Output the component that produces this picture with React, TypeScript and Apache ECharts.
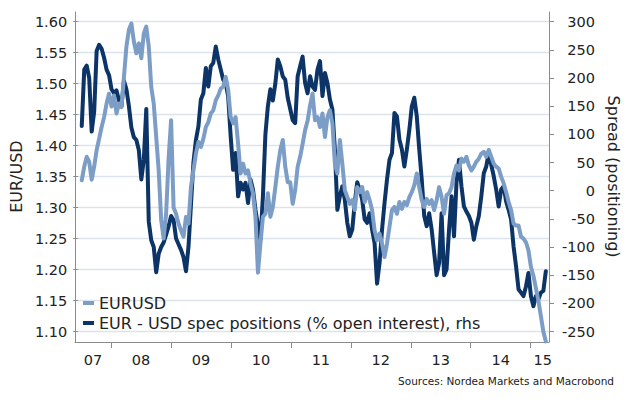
import React, { useEffect, useRef } from "react";
import * as echarts from "echarts";

// Half-monthly observations starting mid-June 2007
const startYear = 2007.46;
const stepYears = 1 / 24;
const xMin = 2007.4;
const xMax = 2015.305;

const eurusd = [
  1.344, 1.366, 1.382, 1.374, 1.345, 1.366, 1.393, 1.411, 1.43, 1.446,
  1.468, 1.484, 1.463, 1.481, 1.452, 1.468, 1.462, 1.511, 1.56, 1.587,
  1.597, 1.568, 1.549, 1.565, 1.541, 1.581, 1.592, 1.56, 1.495, 1.468,
  1.414, 1.36, 1.28, 1.25, 1.29, 1.38, 1.441, 1.3, 1.29, 1.274,
  1.263, 1.253, 1.285, 1.274, 1.333, 1.36, 1.387, 1.406, 1.398, 1.411,
  1.43, 1.438, 1.452, 1.457, 1.473, 1.481, 1.492, 1.495, 1.511, 1.49,
  1.446, 1.436, 1.446, 1.403, 1.355, 1.371, 1.355, 1.36, 1.339, 1.323,
  1.285, 1.195, 1.242, 1.285, 1.29, 1.323, 1.285, 1.301, 1.333, 1.366,
  1.393, 1.409, 1.366, 1.341, 1.341, 1.306, 1.328, 1.366, 1.382, 1.403,
  1.425, 1.44, 1.465, 1.484, 1.441, 1.446, 1.43, 1.452, 1.414, 1.446,
  1.457, 1.436, 1.371, 1.355, 1.409, 1.371, 1.328, 1.317, 1.306, 1.312,
  1.296, 1.333, 1.325, 1.333, 1.309, 1.325, 1.312, 1.296, 1.263, 1.247,
  1.258, 1.242, 1.22, 1.242, 1.269, 1.296, 1.301, 1.29, 1.309, 1.298,
  1.309, 1.304, 1.317, 1.325, 1.336, 1.355, 1.333, 1.312, 1.301, 1.314,
  1.306, 1.312, 1.296, 1.312, 1.333, 1.317, 1.29, 1.32, 1.323, 1.333,
  1.355, 1.368, 1.36, 1.379, 1.374, 1.382, 1.368, 1.36, 1.366, 1.374,
  1.379, 1.387, 1.39, 1.382, 1.393, 1.382, 1.371, 1.366, 1.363, 1.35,
  1.339, 1.325, 1.309, 1.296, 1.274, 1.271, 1.271, 1.253, 1.25, 1.244,
  1.231, 1.204, 1.19, 1.17, 1.15, 1.125, 1.1, 1.084,
];

const specPositions = [
  115, 215, 222, 200, 105, 140, 248, 259, 252, 236,
  215, 205, 180, 173, 178, 160, 150, 195, 180, 150,
  112, 95, 90, 72, 20, 55, 145, -55, -88, -100,
  -145, -112, -100, -92, -78, -63, -45, -52, -85, -95,
  -105, -118, -143, -100, -25, 50, 90, 114, 162, 173,
  218, 185, 221, 227, 256, 233, 215, 197, 191, 167,
  97, 37, 67, -10, 14, 2, 14, -22, 20, 2,
  -34, -63, -87, -10, 100, 150, 180, 160, 190, 233,
  221, 203, 197, 165, 145, 125, 120, 203, 221, 238,
  191, 173, 203, 185, 179, 215, 230, 168, 209, 191,
  162, 144, 73, -34, -10, 8, -16, -57, -81, -69,
  -22, 15, 2, -16, -51, -57, -40, -69, -93, -165,
  -128, -69, -22, 20, 55, 67, 138, 132, 91, 73,
  43, 73, 108, 150, 165, 132, 73, 20, -45, -63,
  -40, -69, -110, -150, -128, -40, -150, -140, -69, -10,
  -81, 14, 55, 8, -28, -37, -45, -57, -87, -63,
  -45, -10, 31, 43, 67, 46, 26, 2, -28, 2,
  8, -19, -34, -51, -99, -134, -175, -181, -187, -170,
  -146, -187, -205, -187, -193, -181, -178, -143,
];

const yearTicks = [2008, 2009, 2010, 2011, 2012, 2013, 2014, 2015];
const yearLabelAt = [2007.7, 2008.5, 2009.5, 2010.5, 2011.5, 2012.5, 2013.5, 2014.5, 2015.2];

const nameEur = "EURUSD";
const nameSpec = "EUR - USD spec positions (% open interest), rhs";
const sourceText = "Sources: Nordea Markets and Macrobond";

const FONT = "DejaVu Sans";
const TEXT = "#222222";
const AXIS = "#8c8c8c";
const LIGHT = "#7c9dc6";
const DARK = "#0c3466";

export default function App() {
  const ref = useRef<HTMLDivElement>(null);
  useEffect(() => {
    if (!ref.current) return;
    const chart = echarts.init(ref.current, null, { renderer: "svg" });
    const toPts = (arr: number[]) => arr.map((v, i) => [startYear + i * stepYears, v]);
    const frameAxis = (pos: string) => ({
      type: "value",
      gridIndex: 1,
      position: pos,
      min: 0,
      max: 1,
      axisLine: { show: true, onZero: false, lineStyle: { color: AXIS, width: 1 } },
      axisTick: { show: false },
      axisLabel: { show: false },
      splitLine: { show: false },
    });
    chart.setOption({
      animation: false,
      textStyle: { fontFamily: FONT },
      title: {
        text: sourceText,
        right: 28,
        top: 375,
        padding: 0,
        textStyle: { fontSize: 10.5, fontWeight: "normal", color: TEXT, fontFamily: FONT },
      },
      legend: {
        data: [nameEur, nameSpec],
        orient: "vertical",
        left: 83,
        top: 295,
        icon: "rect",
        itemWidth: 11,
        itemHeight: 4,
        itemGap: 4,
        padding: 0,
        textStyle: { fontSize: 16, lineHeight: 16, color: TEXT, fontFamily: FONT },
      },
      grid: [
        { left: 75, right: 93, top: 21.7, bottom: 72.5 },
        { left: 75, right: 93, top: 12, bottom: 62 },
      ],
      xAxis: [
        { type: "value", gridIndex: 0, min: xMin, max: xMax, show: false },
        {
          type: "value",
          gridIndex: 1,
          min: xMin,
          max: xMax,
          axisLine: { show: true, onZero: false, lineStyle: { color: AXIS, width: 1 } },
          axisTick: { show: true, length: 6, customValues: yearTicks, lineStyle: { color: AXIS } },
          axisLabel: {
            customValues: yearLabelAt,
            formatter: (v: number) => String(Math.floor(v) % 100).padStart(2, "0"),
            fontSize: 14.5,
            color: TEXT,
            margin: 10,
            fontFamily: FONT,
          },
          splitLine: { show: false },
        },
      ],
      yAxis: [
        {
          type: "value",
          gridIndex: 0,
          position: "left",
          min: 1.1,
          max: 1.6,
          interval: 0.05,
          axisLine: { show: false },
          axisTick: { show: true, length: 5, lineStyle: { color: AXIS } },
          axisLabel: {
            formatter: (v: number) => v.toFixed(2),
            fontSize: 14.5,
            color: TEXT,
            margin: 11,
            fontFamily: FONT,
          },
          splitLine: { show: true, lineStyle: { color: "#dbe3ec", width: 1.3 } },
          name: "EUR/USD",
          nameLocation: "middle",
          nameGap: 47,
          nameRotate: 90,
          nameTextStyle: { fontSize: 16, color: TEXT, fontFamily: FONT },
        },
        {
          type: "value",
          gridIndex: 0,
          position: "right",
          min: -250,
          max: 300,
          interval: 50,
          axisLine: { show: false },
          axisTick: { show: true, length: 5, lineStyle: { color: AXIS } },
          axisLabel: {
            fontSize: 14.5,
            color: TEXT,
            margin: 46,
            align: "right",
            fontFamily: FONT,
          },
          splitLine: { show: false },
          name: "Spread (positioning)",
          nameLocation: "middle",
          nameGap: 45,
          nameRotate: -90,
          nameTextStyle: { fontSize: 16, color: TEXT, fontFamily: FONT },
        },
        frameAxis("left"),
        frameAxis("right"),
      ],
      series: [
        {
          name: nameSpec,
          type: "line",
          xAxisIndex: 0,
          yAxisIndex: 1,
          data: toPts(specPositions),
          showSymbol: false,
          clip: false,
          itemStyle: { color: DARK },
          lineStyle: { color: DARK, width: 4, join: "round", cap: "round" },
        },
        {
          name: nameEur,
          type: "line",
          xAxisIndex: 0,
          yAxisIndex: 0,
          data: toPts(eurusd),
          showSymbol: false,
          clip: false,
          itemStyle: { color: LIGHT },
          lineStyle: { color: LIGHT, width: 4, join: "round", cap: "round" },
        },
      ],
    });
    return () => chart.dispose();
  }, []);
  return (
    <div
      ref={ref}
      style={{ position: "absolute", left: 0, top: 0, width: 642, height: 404, background: "#ffffff" }}
    />
  );
}
